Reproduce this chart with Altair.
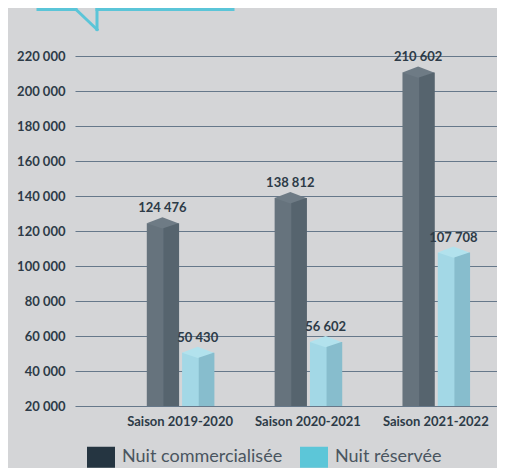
import altair as alt
import pandas as pd

# ---- data ----
seasons = ["Saison 2019-2020", "Saison 2020-2021", "Saison 2021-2022"]
series_names = ["Nuit commercialisée", "Nuit réservée"]
commercialisee = [124476, 138812, 210602]
reservee = [50430, 56602, 107708]
y_ticks = [20000, 40000, 60000, 80000, 100000, 120000, 140000, 160000, 180000, 200000, 220000]

rows = []
for s, c, r in zip(seasons, commercialisee, reservee):
    rows.append({"season": s, "series": series_names[0], "value": c})
    rows.append({"season": s, "series": series_names[1], "value": r})
df = pd.DataFrame(rows)

# ---- styles ----
BG = "#d4d5d7"
TXT = "#2d3b47"
GRID = "#66788a"
FONT = "Lato"
left_col = {"Nuit commercialisée": "#66737d", "Nuit réservée": "#a3d8e6"}
right_col = {"Nuit commercialisée": "#56646e", "Nuit réservée": "#87bdcd"}
top_col = {"Nuit commercialisée": "#6e7b85", "Nuit réservée": "#b2e2ed"}
legend_col = ["#253541", "#5cc6d8"]

is_com = alt.datum.series == series_names[0]

x_enc = alt.X("season:N", sort=seasons,
              scale=alt.Scale(paddingInner=0.479, paddingOuter=0.39, align=0.72),
              axis=alt.Axis(title=None, labelAngle=0, ticks=False, domain=False,
                            labelFont=FONT, labelFontSize=13, labelFontWeight="bold",
                            labelColor=TXT, labelPadding=9, grid=False))
xo_enc = alt.XOffset("series:N", sort=series_names,
                     scale=alt.Scale(paddingInner=0.113, paddingOuter=0))
y_enc = alt.Y("value:Q",
              scale=alt.Scale(domain=[20000, 220000], zero=False, nice=False),
              axis=alt.Axis(title=None, values=y_ticks, ticks=False, domain=False,
                            grid=True, gridColor=GRID, gridWidth=1.2,
                            labelFont=FONT, labelFontSize=13, labelFontWeight="bold",
                            labelColor=TXT, labelPadding=10,
                            labelExpr="replace(format(datum.value, ','), ',', ' ')"))

base = alt.Chart(df)

# legend carrier: zero-height bars
legend_layer = base.mark_bar().encode(
    x=x_enc, xOffset=xo_enc, y=y_enc,
    y2=alt.Y2("value:Q"),
    color=alt.Color("series:N", sort=series_names,
                    scale=alt.Scale(domain=series_names, range=legend_col),
                    legend=alt.Legend(title=None, orient="none", direction="horizontal",
                                      legendX=12, legendY=387,
                                      symbolType="M-1,-0.75L1,-0.75L1,0.75L-1,0.75Z",
                                      symbolSize=784, symbolStrokeWidth=0,
                                      labelFont=FONT, labelFontSize=18,
                                      labelColor="#4a5560", labelOffset=7,
                                      columnPadding=17, labelLimit=300)),
)

left_face = base.mark_bar(opacity=1).encode(
    x=x_enc, xOffset=xo_enc, y=y_enc, y2=alt.datum(20000),
    color=alt.condition(is_com, alt.value(left_col[series_names[0]]),
                        alt.value(left_col[series_names[1]])),
)

right_face = base.mark_bar(opacity=1, width={"band": 0.5}, xOffset=7.9).encode(
    x=x_enc, xOffset=xo_enc, y=y_enc, y2=alt.datum(20000),
    color=alt.condition(is_com, alt.value(right_col[series_names[0]]),
                        alt.value(right_col[series_names[1]])),
)

tops = base.mark_point(filled=True, opacity=1, strokeWidth=0, size=992,
                       shape="M-1,0L0,-0.38L1,0L0,0.34Z").encode(
    x=x_enc, xOffset=xo_enc, y=y_enc,
    color=alt.condition(is_com, alt.value(top_col[series_names[0]]),
                        alt.value(top_col[series_names[1]])),
)

labels = base.transform_calculate(
    label="replace(format(datum.value, ','), ',', ' ')"
).mark_text(dy=-11, font=FONT, fontSize=13, fontWeight="bold", color=TXT,
            baseline="alphabetic").encode(
    x=x_enc, xOffset=xo_enc, y=y_enc, text="label:N",
)

# decorative cyan bracket at the top
deco_df = pd.DataFrame({"d": [0]})
deco_style = dict(color="#5bc5d8", strokeWidth=3, strokeCap="square")
deco = alt.layer(
    alt.Chart(deco_df).mark_rule(**deco_style).encode(
        x=alt.value(-37), x2=alt.value(1), y=alt.value(-46.5), y2=alt.value(-46.5)),
    alt.Chart(deco_df).mark_rule(**deco_style).encode(
        x=alt.value(1), x2=alt.value(22), y=alt.value(-46.5), y2=alt.value(-26.5)),
    alt.Chart(deco_df).mark_rule(**deco_style).encode(
        x=alt.value(22), x2=alt.value(22), y=alt.value(-26.5), y2=alt.value(-46.5)),
    alt.Chart(deco_df).mark_rule(**deco_style).encode(
        x=alt.value(22), x2=alt.value(158), y=alt.value(-46.5), y2=alt.value(-46.5)),
)

chart = alt.layer(legend_layer, left_face, right_face, tops, labels, deco).properties(
    width=422, height=350,
    padding={"left": 67, "top": 48, "right": 0, "bottom": 62},
    autosize=alt.AutoSizeParams(type="none"),
    background=BG,
).configure_view(strokeWidth=0)

chart.save("out.html", embed_options={"renderer": "svg", "actions": False})
